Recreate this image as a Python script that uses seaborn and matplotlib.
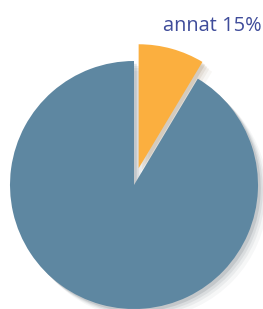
import numpy as np
import matplotlib as mpl
_ = mpl.use('Agg')
import matplotlib.pyplot as plt
import seaborn as sns
from matplotlib.patches import Shadow

# data
categories = ['annat', 'resten']
shares = [8.6, 91.4]
label_texts = ['annat 15%', '']
colors = ['#FBAF3F', '#5E87A1']

sns.set_theme(style='white')
plt.rcParams['font.family'] = ['Open Sans', 'DejaVu Sans']

R = 124.0  # pie radius in pixels
fig = plt.figure(figsize=(2.63, 3.09), dpi=100)
ax = fig.add_axes([0, 0, 1, 1])

wedges, _t = ax.pie(shares, colors=colors, startangle=90, counterclock=False,
                    explode=[0.14, 0.0], wedgeprops=dict(linewidth=0))

# soft drop shadow, lower right
for w in wedges[::-1]:
    for k, a in [(7, 0.04), (5, 0.06), (3.5, 0.08), (2, 0.12)]:
        s = Shadow(w, k / R, -k / R, shade=0.6, alpha=a, linewidth=0)
        s.set_zorder(w.get_zorder() - 1)
        ax.add_patch(s)

ax.text(212 / R - 134 / R, (185 - 31) / R, label_texts[0], ha='center', va='baseline',
        fontsize=14.4, color='#3F4C9A')

ax.set_xlim(-134 / R, 129 / R)
ax.set_ylim(-124 / R, 185 / R)
ax.set_aspect('auto')
ax.axis('off')

plt.savefig('out.png', dpi=100)
